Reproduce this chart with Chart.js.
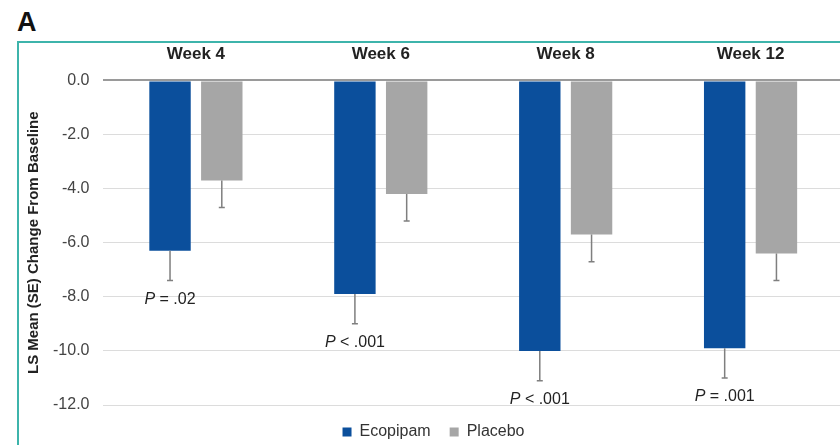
<!DOCTYPE html>
<html>
<head>
<meta charset="utf-8">
<script src="https://cdn.jsdelivr.net/npm/chart.js@4"></script>
<style>
  body { margin: 0; width: 840px; height: 445px; overflow: hidden; background: #fff; position: relative; font-family: "Liberation Sans", Arial, sans-serif; }
  #panel { position: absolute; left: 17px; top: 6px; font-size: 27px; line-height: 32px; font-weight: bold; color: #111; }
  #box { position: absolute; left: 17px; top: 41px; width: 900px; height: 500px; border: 2px solid #3db4ab; }
  #myChart { position: absolute; left: 0; top: -15px; }
</style>
</head>
<body>
<div id="panel">A</div>
<div id="box"><canvas id="myChart" width="838" height="422"></canvas></div>
<script>
const weeks = ['Week 4', 'Week 6', 'Week 8', 'Week 12'];
const ecopipamMean = [-6.3, -7.9, -10.0, -9.9];
const ecopipamSE = [1.1, 1.1, 1.1, 1.1];
const placeboMean = [-3.7, -4.2, -5.7, -6.4];
const placeboSE = [1.0, 1.0, 1.0, 1.0];
const pValues = ['= .02', '< .001', '< .001', '= .001'];
const yTicks = [0, -2, -4, -6, -8, -10, -12];

const FONT = '"Liberation Sans", Arial, sans-serif';

// whiskers below each bar, drawn from the SE arrays
const errorBars = {
    id: 'errorBars',
    afterDatasetsDraw(chart) {
        const ctx = chart.ctx;
        const y = chart.scales.y;
        const seList = [ecopipamSE, placeboSE];
        ctx.save();
        ctx.strokeStyle = '#7f7f7f';
        ctx.lineWidth = 1.5;
        chart.data.datasets.forEach((ds, i) => {
            chart.getDatasetMeta(i).data.forEach((bar, j) => {
                const v = ds.data[j];
                const yEnd = y.getPixelForValue(v - seList[i][j]);
                ctx.beginPath();
                ctx.moveTo(bar.x, bar.y);
                ctx.lineTo(bar.x, yEnd);
                ctx.moveTo(bar.x - 3, yEnd);
                ctx.lineTo(bar.x + 3, yEnd);
                ctx.stroke();
            });
        });
        ctx.restore();
    }
};

// P value text under the ecopipam whiskers
const pLabels = {
    id: 'pLabels',
    afterDatasetsDraw(chart) {
        const ctx = chart.ctx;
        const y = chart.scales.y;
        ctx.save();
        ctx.fillStyle = '#222';
        ctx.textBaseline = 'middle';
        chart.getDatasetMeta(0).data.forEach((bar, j) => {
            const yEnd = y.getPixelForValue(ecopipamMean[j] - ecopipamSE[j]);
            const ty = yEnd + 19;
            ctx.font = 'italic 16px ' + FONT;
            const wP = ctx.measureText('P').width;
            ctx.font = '16px ' + FONT;
            const rest = ' ' + pValues[j];
            const wR = ctx.measureText(rest).width;
            let x = bar.x - (wP + wR) / 2;
            ctx.textAlign = 'left';
            ctx.font = 'italic 16px ' + FONT;
            ctx.fillText('P', x, ty);
            ctx.font = '16px ' + FONT;
            ctx.fillText(rest, x + wP, ty);
        });
        ctx.restore();
    }
};

var ctx = document.getElementById('myChart').getContext('2d');
var myChart = new Chart(ctx, {
    type: 'bar',
    data: {
        labels: weeks,
        datasets: [{
            label: 'Ecopipam',
            data: ecopipamMean,
            backgroundColor: '#0b4f9c',
            barPercentage: 0.8,
            categoryPercentage: 0.56
        }, {
            label: 'Placebo',
            data: placeboMean,
            backgroundColor: '#a6a6a6',
            barPercentage: 0.8,
            categoryPercentage: 0.56
        }]
    },
    options: {
        responsive: false,
        animation: false,
        layout: { padding: { left: 5, right: 14, top: 0, bottom: 0 } },
        plugins: {
            legend: {
                position: 'bottom',
                labels: {
                    boxWidth: 9,
                    boxHeight: 9,
                    padding: 19,
                    color: '#333',
                    font: { family: FONT, size: 16 }
                }
            },
            tooltip: { enabled: false }
        },
        scales: {
            x: {
                position: 'top',
                grid: { display: false, drawTicks: false },
                border: { display: false },
                ticks: {
                    color: '#222',
                    padding: 16,
                    font: { family: FONT, size: 17, weight: 'bold' }
                }
            },
            y: {
                min: -12,
                max: 0,
                afterBuildTicks(axis) {
                    axis.ticks = yTicks.map(v => ({ value: v }));
                },
                grid: {
                    color: c => c.tick && c.tick.value === 0 ? '#9a9a9a' : '#dcdcdc',
                    lineWidth: c => c.tick && c.tick.value === 0 ? 2 : 1,
                    drawTicks: false
                },
                border: { display: false },
                ticks: {
                    color: '#444',
                    padding: 14,
                    font: { family: FONT, size: 16 },
                    callback: v => v.toFixed(1)
                },
                title: {
                    display: true,
                    text: 'LS Mean (SE) Change From Baseline',
                    color: '#222',
                    font: { family: FONT, size: 15, weight: 'bold' },
                    padding: { top: 1, bottom: -4 }
                }
            }
        }
    },
    plugins: [errorBars, pLabels]
});
</script>
</body>
</html>
